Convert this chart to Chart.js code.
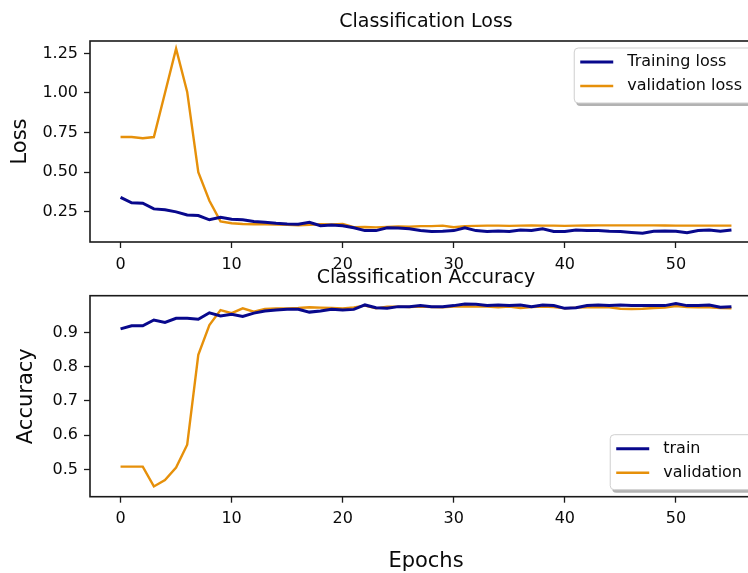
<!DOCTYPE html>
<html>
<head>
<meta charset="utf-8">
<script src="https://cdn.jsdelivr.net/npm/chart.js@4.4.1/dist/chart.umd.min.js"></script>
<style>
	html, body { margin: 0; padding: 0; background: #fff; overflow: hidden; width: 748px; height: 573px; }
	canvas { position: absolute; left: 0; }
	#perdida { top: 0; }
	#precision { top: 250px; }
</style>
</head>
<body>
<canvas id="perdida" width="780" height="290"></canvas>
<canvas id="precision" width="780" height="340"></canvas>
<script>
/* Datos */
const epocas = Array.from({ length: 56 }, (_, i) => i);
const ticksEpocas = [0, 10, 20, 30, 40, 50];
const ticksPerdida = [0.25, 0.5, 0.75, 1.0, 1.25];
const ticksPrecision = [0.5, 0.6, 0.7, 0.8, 0.9];

const perdidaTrain = [
	0.342, 0.307, 0.305, 0.269, 0.263, 0.25, 0.231, 0.227, 0.2, 0.216,
	0.203, 0.201, 0.19, 0.184, 0.178, 0.174, 0.172, 0.184, 0.163, 0.167,
	0.163, 0.15, 0.132, 0.132, 0.15, 0.148, 0.143, 0.132, 0.126, 0.128,
	0.132, 0.15, 0.132, 0.126, 0.13, 0.126, 0.136, 0.132, 0.143, 0.126,
	0.126, 0.136, 0.132, 0.132, 0.128, 0.126, 0.12, 0.115, 0.128, 0.13,
	0.128, 0.118, 0.132, 0.136, 0.128, 0.136,
];
const perdidaVal = [
	0.722, 0.722, 0.715, 0.722, 1.0, 1.28, 1.007, 0.5, 0.32, 0.19,
	0.178, 0.174, 0.172, 0.172, 0.17, 0.168, 0.166, 0.168, 0.172, 0.17,
	0.174, 0.153, 0.155, 0.152, 0.155, 0.158, 0.156, 0.16, 0.16, 0.163,
	0.153, 0.16, 0.162, 0.163, 0.163, 0.162, 0.163, 0.164, 0.163, 0.163,
	0.162, 0.163, 0.164, 0.165, 0.165, 0.165, 0.165, 0.165, 0.165, 0.164,
	0.163, 0.163, 0.163, 0.163, 0.163, 0.163,
];
const precisionTrain = [
	0.911, 0.92, 0.92, 0.937, 0.93, 0.942, 0.942, 0.939, 0.958, 0.949,
	0.954, 0.947, 0.957, 0.963, 0.966, 0.968, 0.968, 0.96, 0.963, 0.968,
	0.966, 0.968, 0.981, 0.973, 0.971, 0.976, 0.976, 0.979, 0.976, 0.976,
	0.979, 0.984, 0.983, 0.979, 0.981, 0.979, 0.981, 0.976, 0.981, 0.979,
	0.971, 0.973, 0.979, 0.981, 0.979, 0.981, 0.979, 0.979, 0.979, 0.979,
	0.985, 0.979, 0.979, 0.981, 0.974, 0.976,
];
const precisionVal = [
	0.508, 0.508, 0.508, 0.45, 0.469, 0.505, 0.572, 0.835, 0.922, 0.966,
	0.957, 0.971, 0.961, 0.969, 0.971, 0.971, 0.972, 0.974, 0.973, 0.972,
	0.971, 0.974, 0.979, 0.971, 0.976, 0.976, 0.975, 0.976, 0.975, 0.974,
	0.976, 0.977, 0.976, 0.976, 0.974, 0.976, 0.972, 0.975, 0.976, 0.975,
	0.971, 0.973, 0.974, 0.975, 0.974, 0.97, 0.969, 0.97, 0.972, 0.973,
	0.978, 0.975, 0.974, 0.974, 0.972, 0.971,
];

const AZUL = "#08088c";
const NARANJA = "#e6900a";
const FUENTE = "'DejaVu Sans', sans-serif";

Chart.defaults.font.family = FUENTE;
Chart.defaults.color = "#0a0a0a";

/* Marco negro alrededor del área del gráfico */
const marco = {
	id: "marco",
	afterDatasetsDraw(chart) {
		const { ctx, chartArea: a } = chart;
		ctx.save();
		ctx.strokeStyle = "#1a1a1a";
		ctx.lineWidth = 1.6;
		ctx.strokeRect(a.left, a.top, a.width, a.height);
		ctx.restore();
	},
};

/* Leyenda con caja dentro del área (arriba o abajo a la derecha) */
const cajaLeyenda = {
	id: "cajaLeyenda",
	afterDraw(chart, args, opts) {
		const { ctx, chartArea } = chart;
		const datasets = chart.data.datasets;
		ctx.save();
		ctx.font = "16px " + FUENTE;
		const anchoTexto = Math.max(...datasets.map((d) => ctx.measureText(d.label).width));
		const ancho = 6 + 33 + 14 + anchoTexto + 13;
		const alto = 55;
		const derecha = chartArea.right - 7;
		const izquierda = derecha - ancho;
		const arriba = opts.esquina == "arriba" ? chartArea.top + 7 : chartArea.bottom - 7 - alto;

		ctx.fillStyle = "rgba(0,0,0,0.3)";
		ctx.beginPath();
		ctx.roundRect(izquierda + 2, arriba + 3, ancho, alto, 4);
		ctx.fill();
		ctx.fillStyle = "#fff";
		ctx.strokeStyle = "#cfcfcf";
		ctx.lineWidth = 1;
		ctx.beginPath();
		ctx.roundRect(izquierda, arriba, ancho, alto, 4);
		ctx.fill();
		ctx.stroke();

		datasets.forEach((d, i) => {
			const y = arriba + 14 + i * 24;
			ctx.strokeStyle = d.borderColor;
			ctx.lineWidth = d.borderWidth;
			ctx.beginPath();
			ctx.moveTo(izquierda + 6, y);
			ctx.lineTo(izquierda + 39, y);
			ctx.stroke();
			ctx.fillStyle = "#0a0a0a";
			ctx.textBaseline = "middle";
			ctx.fillText(d.label, izquierda + 53, y);
		});
		ctx.restore();
	},
};

function serie(label, data, color, ancho) {
	return {
		label: label,
		data: data,
		borderColor: color,
		backgroundColor: color,
		borderWidth: ancho,
		pointRadius: 0,
		tension: 0,
	};
}

function ejeX(alto, titulo) {
	return {
		type: "linear",
		min: -2.75,
		max: 57.75,
		afterBuildTicks: (eje) => {
			eje.ticks = ticksEpocas.map((v) => ({ value: v }));
		},
		afterFit: (eje) => {
			eje.height = alto;
		},
		ticks: { font: { size: 16 }, padding: 7, callback: (v) => String(v) },
		grid: { drawOnChartArea: false, tickLength: 6, tickColor: "#1a1a1a", tickWidth: 1.3 },
		border: { display: false },
		title: titulo,
	};
}

function ejeY(min, max, ticks, decimales, titulo, separacion) {
	return {
		min: min,
		max: max,
		afterBuildTicks: (eje) => {
			eje.ticks = ticks.map((v) => ({ value: v }));
		},
		afterFit: (eje) => {
			eje.width = 90;
		},
		ticks: { font: { size: 16 }, padding: 6, callback: (v) => v.toFixed(decimales) },
		grid: { drawOnChartArea: false, tickLength: 6, tickColor: "#1a1a1a", tickWidth: 1.3 },
		border: { display: false },
		title: { display: true, text: titulo, font: { size: 21 }, padding: { top: separacion, bottom: 0 } },
	};
}

/* Gráfico de pérdida */
new Chart(document.getElementById("perdida"), {
	type: "line",
	data: {
		labels: epocas,
		datasets: [
			serie("Training loss", perdidaTrain, AZUL, 3),
			serie("validation loss", perdidaVal, NARANJA, 2.4),
		],
	},
	options: {
		responsive: false,
		animation: false,
		devicePixelRatio: 1,
		layout: { padding: { left: 0, right: 18, top: 0, bottom: 0 } },
		scales: {
			x: ejeX(48, { display: false }),
			y: ejeY(0.06, 1.328, ticksPerdida, 2, "Loss", 8.4),
		},
		plugins: {
			legend: { display: false },
			tooltip: { enabled: false },
			title: {
				display: true,
				text: "Classification Loss",
				fullSize: false,
				color: "#0a0a0a",
				font: { size: 19, weight: "normal" },
				padding: { top: 10.6, bottom: 7.6 },
			},
			cajaLeyenda: { esquina: "arriba" },
		},
	},
	plugins: [marco, cajaLeyenda],
});

/* Gráfico de precisión */
new Chart(document.getElementById("precision"), {
	type: "line",
	data: {
		labels: epocas,
		datasets: [
			serie("train", precisionTrain, AZUL, 3),
			serie("validation", precisionVal, NARANJA, 2.4),
		],
	},
	options: {
		responsive: false,
		animation: false,
		devicePixelRatio: 1,
		layout: { padding: { left: 0, right: 18, top: 0, bottom: 0 } },
		scales: {
			x: ejeX(93.3, {
				display: true,
				text: "Epochs",
				font: { size: 21 },
				padding: { top: 0, bottom: 15.4 },
			}),
			y: ejeY(0.42, 1.008, ticksPrecision, 1, "Accuracy", 13.5),
		},
		plugins: {
			legend: { display: false },
			tooltip: { enabled: false },
			title: {
				display: true,
				text: "Classification Accuracy",
				fullSize: false,
				color: "#0a0a0a",
				font: { size: 19, weight: "normal" },
				padding: { top: 16.6, bottom: 6.3 },
			},
			cajaLeyenda: { esquina: "abajo" },
		},
	},
	plugins: [marco, cajaLeyenda],
});
</script>
</body>
</html>
